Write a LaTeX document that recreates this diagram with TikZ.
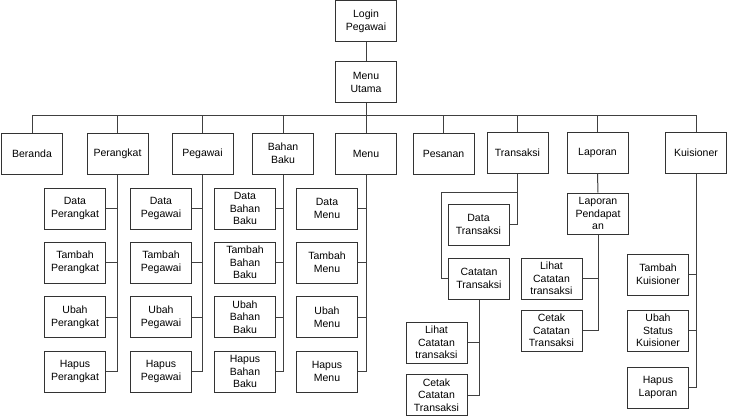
\documentclass[tikz,border=0pt]{standalone}
\usepackage{fontspec}
\setmainfont{Liberation Sans}
\begin{document}
\begin{tikzpicture}[x=1pt,y=-1pt,
  box/.style={draw=black!80, line width=1pt, fill=white, minimum width=61pt, minimum height=41pt,
    inner sep=1pt, align=center, font=\fontsize{10.5}{12.7}\selectfont},
  link/.style={draw=black!75, line width=1pt}]
\useasboundingbox (0,0) rectangle (729,420);
% top
\node[box] (login) at (366,21.5) {Login\\Pegawai};
\node[box] (mu) at (366,82.5) {Menu\\Utama};
\coordinate (bus) at (0,116);
% level 1
\node[box] (ber) at (32,153.5) {Beranda};
\node[box] (per) at (117.5,153.5) {Perangkat};
\node[box] (peg) at (202.5,153.5) {Pegawai};
\node[box] (bb) at (283,153.5) {Bahan\\Baku};
\node[box] (menu) at (366,153.5) {Menu};
\node[box] (pes) at (443.5,153.5) {Pesanan};
\node[box] (tr) at (517.5,152.5) {Transaksi};
\node[box] (lap) at (597.5,152.5) {Laporan};
\node[box] (kui) at (696,152.5) {Kuisioner};
% Perangkat children
\node[box] (per1) at (75,208.5) {Data\\Perangkat};
\node[box] (per2) at (75,262.5) {Tambah\\Perangkat};
\node[box] (per3) at (75,317) {Ubah\\Perangkat};
\node[box] (per4) at (75,371.5) {Hapus\\Perangkat};
% Pegawai children
\node[box] (peg1) at (161,208.5) {Data\\Pegawai};
\node[box] (peg2) at (161,262.5) {Tambah\\Pegawai};
\node[box] (peg3) at (161,317) {Ubah\\Pegawai};
\node[box] (peg4) at (161,371.5) {Hapus\\Pegawai};
% Bahan Baku children
\node[box] (bb1) at (245,208.5) {Data\\Bahan\\Baku};
\node[box] (bb2) at (245,262.5) {Tambah\\Bahan\\Baku};
\node[box] (bb3) at (245,317) {Ubah\\Bahan\\Baku};
\node[box] (bb4) at (245,371.5) {Hapus\\Bahan\\Baku};
% Menu children
\node[box] (me1) at (327,208.5) {Data\\Menu};
\node[box] (me2) at (327,262.5) {Tambah\\Menu};
\node[box] (me3) at (327,317) {Ubah\\Menu};
\node[box] (me4) at (327,371.5) {Hapus\\Menu};
% Transaksi children
\node[box] (dt) at (478.5,224.5) {Data\\Transaksi};
\node[box] (ct) at (479,278.5) {Catatan\\Transaksi};
\node[box] (lc1) at (436.5,342.5) {Lihat\\Catatan\\transaksi};
\node[box] (cc1) at (436.5,395) {Cetak\\Catatan\\Transaksi};
% Laporan children
\node[box] (lp) at (598,213.5) {Laporan\\Pendapat\\an};
\node[box] (lc2) at (551.5,278.5) {Lihat\\Catatan\\transaksi};
\node[box] (cc2) at (551.5,330.5) {Cetak\\Catatan\\Transaksi};
% Kuisioner children
\node[box] (k1) at (658,274.5) {Tambah\\Kuisioner};
\node[box] (k2) at (658,330.5) {Ubah\\Status\\Kuisioner};
\node[box] (k3) at (658,387.5) {Hapus\\Laporan};
% connectors top
\draw[link] (login.south) -- (mu.north);
\draw[link] (mu.south) -- (mu.south |- bus);
\draw[link] (ber.north) |- (kui.north |- bus) -- (kui.north);
\foreach \n in {per,peg,bb,menu,pes,tr,lap}
  \draw[link] (\n.north) -- (\n.north |- bus);
% columns
\foreach \p/\c in {per/per,peg/peg,bb/bb,menu/me}{
  \draw[link] (\p.south) |- (\c4.east);
  \foreach \i in {1,2,3}
    \draw[link] (\c\i.east) -- (\c\i.east -| \p.south);
}
% Transaksi
\coordinate (tj) at (517.5,192);
\coordinate (tl) at (441,192);
\draw[link] (tr.south) |- (dt.east);
\draw[link] (tj) -- (tl) |- (ct.west);
\draw[link] (ct.south) |- (cc1.east);
\draw[link] (lc1.east) -- (lc1.east -| ct.south);
% Laporan
\draw[link] (lap.south) -- (lp.north);
\draw[link] (lp.south) |- (cc2.east);
\draw[link] (lc2.east) -- (lc2.east -| lp.south);
% Kuisioner
\draw[link] (kui.south) |- (k3.east);
\draw[link] (k1.east) -- (k1.east -| kui.south);
\draw[link] (k2.east) -- (k2.east -| kui.south);
\end{tikzpicture}
\end{document}
